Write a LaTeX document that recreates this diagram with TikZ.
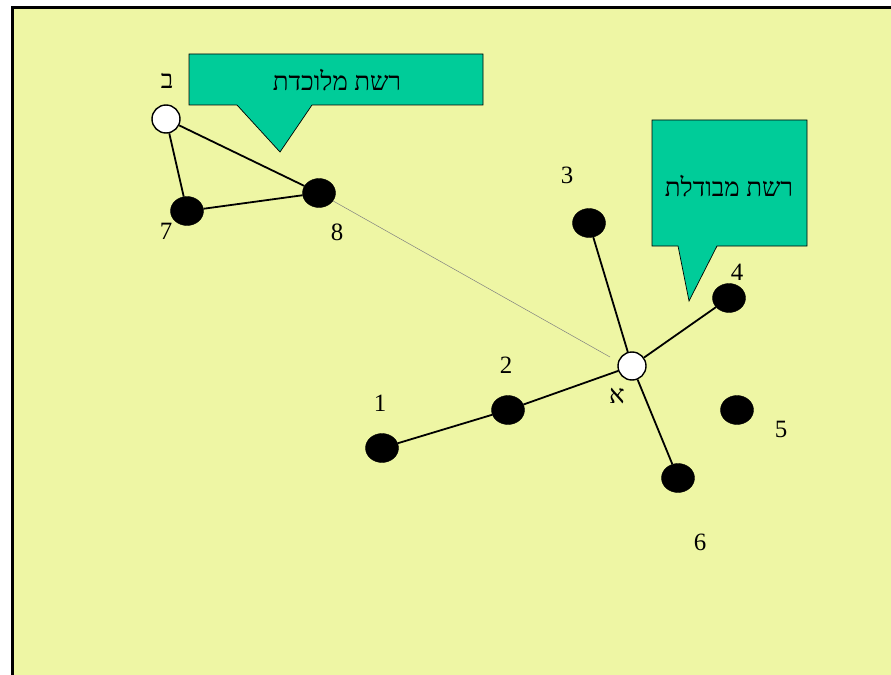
\documentclass[tikz,border=0pt]{standalone}
\usepackage{fontspec}
\setmainfont{Liberation Serif}
\newfontfamily\hebfont[Script=Hebrew]{Liberation Serif}
\TeXXeTstate=1
\usetikzlibrary{shapes.geometric}
\definecolor{pagebg}{RGB}{238,246,164}
\definecolor{calloutfill}{RGB}{0,204,153}
\begin{document}
\begin{tikzpicture}[x=1bp,y=-1bp,
	full/.style={ellipse,fill=black,draw=black,minimum width=33bp,minimum height=29bp,inner sep=0pt},
	hub/.style={circle,fill=white,draw=black,line width=1.4bp,minimum size=28bp,inner sep=0pt},
	num/.style={font=\fontsize{25}{30}\selectfont,inner sep=0pt},
	heb/.style={font=\fontsize{26}{30}\selectfont\hebfont,inner sep=0pt},
	link/.style={line width=1.8bp},
	callout/.style={fill=calloutfill,draw=black,line width=0.7bp}]
	\useasboundingbox (0,0) rectangle (891,675);
	\fill[pagebg] (12,8) rectangle (891,675);
	\draw[line width=3bp] (12,675) -- (12,8) -- (891,8);
	% callouts
	\draw[callout] (189,54) -- (483,54) -- (483,105) -- (312,105) -- (280,152) -- (237,105) -- (189,105) -- cycle;
	\node[heb] (t1) at (337,80) {\beginR רשת מלוכדת\endR};
	\draw[callout] (652,120) -- (807,120) -- (807,246) -- (717,246) -- (689,301) -- (678,246) -- (652,246) -- cycle;
	\node[heb] (t2) at (729,186) {\beginR רשת מבודלת\endR};
	% nodes
	\node[full] (n1) at (382,448) {};
	\node[full] (n2) at (508,410) {};
	\node[full] (n3) at (589,223) {};
	\node[full] (n4) at (729,298) {};
	\node[full] (n5) at (737,410) {};
	\node[full] (n6) at (678,478) {};
	\node[full] (n7) at (187,211) {};
	\node[full] (n8) at (319,193) {};
	\node[hub] (a) at (632,366) {};
	\node[hub] (b) at (166,119) {};
	% labels
	\node[num] (l1) at (380,403) {1};
	\node[num] (l2) at (506,365) {2};
	\node[num] (l3) at (567,175) {3};
	\node[num] (l4) at (737,272) {4};
	\node[num] (l5) at (781,429) {5};
	\node[num] (l6) at (700,542) {6};
	\node[num] (l7) at (166,231) {7};
	\node[num] (l8) at (337,232) {8};
	\node[heb] (la) at (617,396) {\beginR א\endR};
	\node[heb] (lb) at (167,81) {\beginR ב\endR};
	% links
	\coordinate (e8) at (610,357);
	\draw[gray,line width=0.5bp] (n8) -- (e8);
	\draw[link] (n1) -- (n2) -- (a);
	\draw[link] (a) -- (n3);
	\draw[link] (a) -- (n4);
	\draw[link] (a) -- (n6);
	\draw[link] (b) -- (n7) -- (n8) -- (b);
\end{tikzpicture}
\end{document}
